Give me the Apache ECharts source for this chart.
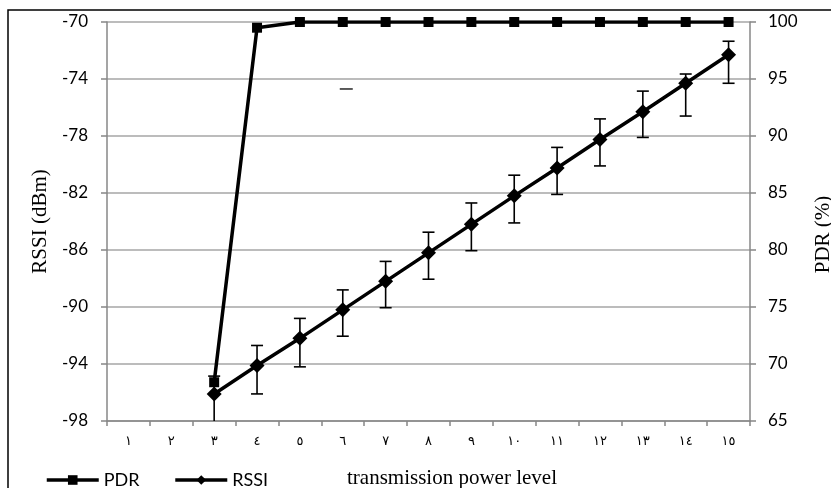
<!DOCTYPE html>
<html>
<head>
<meta charset="utf-8">
<script src="https://cdn.jsdelivr.net/npm/echarts@6/dist/echarts.min.js"></script>
<style>
html,body{margin:0;padding:0;background:#fff;}
#chart{width:831px;height:488px;}
</style>
</head>
<body>
<div id="chart"></div>
<script>
// ---- data ----
const categories = ['١','٢','٣','٤','٥','٦','٧','٨','٩','١٠','١١','١٢','١٣','١٤','١٥'];
const pdr  = [null, null, 68.4, 99.5, 100, 100, 100, 100, 100, 100, 100, 100, 100, 100, 100];
const rssi = [null, null, -96.1, -94.1, -92.2, -90.2, -88.2, -86.2, -84.2, -82.2, -80.25, -78.25, -76.3, -74.3, -72.3];
const rssiUpper = [null, null, -94.85, -92.7, -90.8, -88.8, -86.8, -84.75, -82.7, -80.75, -78.8, -76.8, -74.85, -73.65, -71.35];
const rssiLower = [null, null, -99.5, -96.1, -94.2, -92.05, -90.05, -88.05, -86.05, -84.1, -82.1, -80.1, -78.1, -76.6, -74.3];
const strayCap = [[5, -74.7]];
const leftTicks = {min: -98, max: -70};
const rightTicks = {min: 65, max: 100, interval: 5};

const errData = [];
categories.forEach((c, i) => {
  if (rssi[i] !== null) errData.push([i, rssiLower[i], rssiUpper[i]]);
});

const chart = echarts.init(document.getElementById('chart'), null, {renderer: 'canvas'});
const axisGray = '#878787';
const sans = 'Lato';
const serif = 'Liberation Serif';

chart.setOption({
  animation: false,
  backgroundColor: '#fff',
  grid: {left: 107, right: 81, top: 22, bottom: 67, containLabel: false, outerBoundsMode: 'none'},
  graphic: [{
    type: 'rect', silent: true, z: 100,
    shape: {x: 8, y: 10, width: 840, height: 500},
    style: {fill: 'none', stroke: '#000', lineWidth: 1.5}
  }],
  legend: {
    left: 40, top: 466,
    itemWidth: 52, itemHeight: 12, itemGap: 34,
    lineStyle: {width: 3.5},
    textStyle: {fontFamily: sans, fontSize: 18, color: '#000'},
    data: ['PDR', 'RSSI']
  },
  xAxis: {
    type: 'category',
    data: categories,
    boundaryGap: true,
    name: 'transmission power level',
    nameLocation: 'middle',
    nameGap: 47,
    nameTextStyle: {fontFamily: serif, fontSize: 21, color: '#000', padding: [0, 0, 0, 47]},
    axisLine: {lineStyle: {color: axisGray, width: 1.5}},
    axisTick: {show: true, length: 5, lineStyle: {color: axisGray, width: 1.5}},
    axisLabel: {fontFamily: 'DejaVu Sans', fontSize: 13, color: '#000', margin: 14},
    splitLine: {show: false}
  },
  yAxis: [{
    type: 'value',
    min: leftTicks.min, max: leftTicks.max,
    alignTicks: true,
    position: 'left',
    name: 'RSSI (dBm)',
    nameLocation: 'middle',
    nameGap: 53,
    nameRotate: 90,
    nameTextStyle: {fontFamily: serif, fontSize: 21, color: '#000'},
    axisLine: {show: true, lineStyle: {color: axisGray, width: 1.5}},
    axisTick: {show: true, length: 6, lineStyle: {color: axisGray, width: 1.5}},
    axisLabel: {fontFamily: sans, fontSize: 17, color: '#000', margin: 19},
    splitLine: {show: true, lineStyle: {color: '#a6a6a6', width: 1.5}}
  }, {
    type: 'value',
    min: rightTicks.min, max: rightTicks.max, interval: rightTicks.interval,
    position: 'right',
    name: 'PDR (%)',
    nameLocation: 'middle',
    nameGap: 63,
    nameRotate: 90,
    nameTextStyle: {fontFamily: serif, fontSize: 21, color: '#000', padding: [0, 26, 0, 0]},
    axisLine: {show: true, lineStyle: {color: axisGray, width: 1.5}},
    axisTick: {show: true, length: 6, lineStyle: {color: axisGray, width: 1.5}},
    axisLabel: {fontFamily: sans, fontSize: 17, color: '#000', margin: 18},
    splitLine: {show: false}
  }],
  series: [{
    name: 'PDR',
    type: 'line',
    yAxisIndex: 1,
    data: pdr,
    symbol: 'rect',
    symbolSize: 10,
    showAllSymbol: true,
    connectNulls: false,
    lineStyle: {color: '#000', width: 3.5},
    itemStyle: {color: '#000'},
    z: 3
  }, {
    name: 'RSSI',
    type: 'line',
    yAxisIndex: 0,
    data: rssi,
    symbol: 'diamond',
    symbolSize: 15,
    showAllSymbol: true,
    lineStyle: {color: '#000', width: 3.5},
    itemStyle: {color: '#000'},
    z: 4
  }, {
    name: 'RSSI err',
    type: 'custom',
    yAxisIndex: 0,
    clip: true,
    z: 2,
    data: errData,
    renderItem: function (params, api) {
      const x = api.value(0);
      const hi = api.coord([x, api.value(2)]);
      const lo = api.coord([x, api.value(1)]);
      const w = 12;
      const st = {stroke: '#000', lineWidth: 1.6};
      return {type: 'group', children: [
        {type: 'line', shape: {x1: hi[0], y1: hi[1], x2: lo[0], y2: lo[1]}, style: st},
        {type: 'line', shape: {x1: hi[0] - w / 2, y1: hi[1], x2: hi[0] + w / 2, y2: hi[1]}, style: st},
        {type: 'line', shape: {x1: lo[0] - w / 2, y1: lo[1], x2: lo[0] + w / 2, y2: lo[1]}, style: st}
      ]};
    }
  }, {
    name: 'stray',
    type: 'custom',
    yAxisIndex: 0,
    z: 2,
    data: strayCap,
    renderItem: function (params, api) {
      const p = api.coord([api.value(0), api.value(1)]);
      return {type: 'line', shape: {x1: p[0] - 3, y1: p[1], x2: p[0] + 10, y2: p[1]},
        style: {stroke: '#333', lineWidth: 1.6}};
    }
  }]
});
</script>
</body>
</html>
